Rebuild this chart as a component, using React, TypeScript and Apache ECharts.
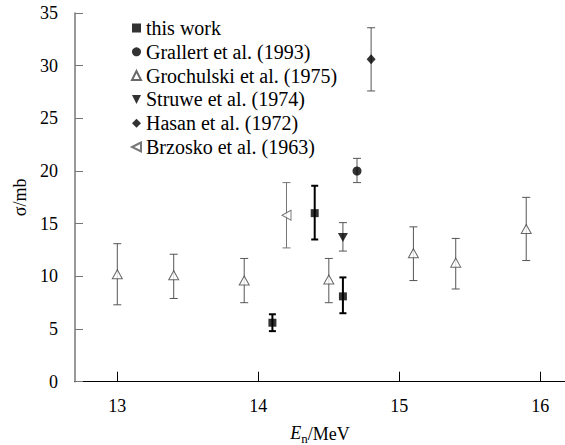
import React, { useEffect, useRef } from "react";
import * as echarts from "echarts";

// ---- data ----
const thisWorkE = [14.1, 14.4, 14.6];
const thisWorkSigma = [5.6, 16.0, 8.1];
const thisWorkLow = [4.8, 13.5, 6.5];
const thisWorkHigh = [6.4, 18.6, 9.9];

const grallertE = [14.7];
const grallertSigma = [20.0];
const grallertLow = [18.9];
const grallertHigh = [21.2];

const grochulskiE = [13.0, 13.4, 13.9, 14.5, 15.1, 15.4, 15.9];
const grochulskiSigma = [10.2, 10.1, 9.6, 9.7, 12.2, 11.3, 14.5];
const grochulskiLow = [7.3, 7.9, 7.5, 7.5, 9.6, 8.8, 11.5];
const grochulskiHigh = [13.1, 12.1, 11.7, 11.7, 14.7, 13.6, 17.5];

const struweE = [14.6];
const struweSigma = [13.7];
const struweLow = [12.4];
const struweHigh = [15.1];

const hasanE = [14.8];
const hasanSigma = [30.6];
const hasanLow = [27.6];
const hasanHigh = [33.6];

const brzoskoE = [14.2];
const brzoskoSigma = [15.8];
const brzoskoLow = [12.7];
const brzoskoHigh = [18.9];

const xTicks = [13, 14, 15, 16];

const FONT = "Times New Roman, Liberation Serif, serif";
const GRAY = "#555";

const DOWN_TRI = "path://M0,0 L10,0 L5,10 Z";
const LEFT_TRI = "path://M10,0 L0,5 L10,10 Z";

function pts(xs: number[], ys: number[]) {
  return xs.map((x, i) => [x, ys[i]]);
}
function errs(xs: number[], lo: number[], hi: number[]) {
  return xs.map((x, i) => [x, lo[i], hi[i]]);
}

function errRender(capHalf: number, color: string, width: number) {
  return (params: any, api: any) => {
    const x = api.value(0);
    const lo = api.value(1);
    const hi = api.value(2);
    const top = api.coord([x, hi]);
    const bot = api.coord([x, lo]);
    const style = { stroke: color, lineWidth: width, fill: "none" };
    return {
      type: "group",
      children: [
        { type: "line", shape: { x1: top[0], y1: top[1], x2: bot[0], y2: bot[1] }, style },
        { type: "line", shape: { x1: top[0] - capHalf, y1: top[1], x2: top[0] + capHalf, y2: top[1] }, style },
        { type: "line", shape: { x1: bot[0] - capHalf, y1: bot[1], x2: bot[0] + capHalf, y2: bot[1] }, style },
      ],
    };
  };
}

function errSeries(data: number[][], capHalf: number, color: string, width: number) {
  return {
    type: "custom",
    renderItem: errRender(capHalf, color, width),
    data,
    encode: { x: 0, y: [1, 2] },
    z: 1,
    silent: true,
  };
}

export default function App() {
  const ref = useRef<HTMLDivElement>(null);
  useEffect(() => {
    const chart = echarts.init(ref.current!, null, { renderer: "svg" });
    const option: any = {
      animation: false,
      backgroundColor: "#fff",
      textStyle: { fontFamily: FONT },
      grid: { left: 75, right: 0, top: 13, bottom: 63.3, containLabel: false, outerBoundsMode: "none" },
      legend: {
        orient: "vertical",
        left: 126,
        top: 13,
        itemGap: 3.8,
        itemWidth: 9,
        itemHeight: 9,
        textStyle: { fontSize: 20, fontFamily: FONT, color: "#000", lineHeight: 20 },
        data: [
          { name: "this work", icon: "rect" },
          { name: "Grallert et al. (1993)", icon: "circle" },
          { name: "Grochulski et al. (1975)", icon: "triangle" },
          { name: "Struwe et al. (1974)", icon: DOWN_TRI },
          { name: "Hasan et al. (1972)", icon: "diamond" },
          { name: "Brzosko et al. (1963)", icon: LEFT_TRI },
        ],
      },
      xAxis: {
        type: "value",
        min: 12.7,
        max: 16.175,
        name: "{i|E}{s|n}/MeV",
        nameLocation: "middle",
        nameGap: 42,
        nameTextStyle: {
          fontFamily: FONT,
          fontSize: 18,
          color: "#000",
          rich: {
            i: { fontStyle: "italic", fontSize: 18, fontFamily: FONT, color: "#000", lineHeight: 20, verticalAlign: "top" },
            s: { fontSize: 13, fontFamily: FONT, color: "#000", lineHeight: 13, padding: [8, 0, 0, 0], verticalAlign: "top" },
          },
        },
        axisLine: { lineStyle: { color: "#000", width: 1 } },
        axisTick: { inside: true, length: 10, customValues: xTicks, lineStyle: { color: "#000" } },
        axisLabel: { customValues: xTicks, fontSize: 18, color: "#000", fontFamily: FONT, margin: 15 },
        splitLine: { show: false },
      },
      yAxis: {
        type: "value",
        min: 0,
        max: 35,
        interval: 5,
        name: "σ/mb",
        nameLocation: "middle",
        nameGap: 46,
        nameTextStyle: { fontFamily: FONT, fontSize: 18, color: "#000" },
        axisLine: { show: true, lineStyle: { color: "#777", width: 1.5 } },
        axisTick: { show: true, inside: true, length: 8, lineStyle: { color: "#777" } },
        axisLabel: { fontSize: 18, color: "#000", fontFamily: FONT, margin: 17 },
        splitLine: { show: false },
      },
      series: [
        errSeries(errs(grochulskiE, grochulskiLow, grochulskiHigh), 4, GRAY, 1),
        errSeries(errs(grallertE, grallertLow, grallertHigh), 4, GRAY, 1),
        errSeries(errs(struweE, struweLow, struweHigh), 4, GRAY, 1),
        errSeries(errs(hasanE, hasanLow, hasanHigh), 4, GRAY, 1),
        errSeries(errs(brzoskoE, brzoskoLow, brzoskoHigh), 4, "#777", 1),
        errSeries(errs(thisWorkE, thisWorkLow, thisWorkHigh), 3.5, "#000", 2),
        {
          name: "this work",
          type: "scatter",
          symbol: "rect",
          symbolSize: 8,
          data: pts(thisWorkE, thisWorkSigma),
          itemStyle: { color: "#000" },
          z: 3,
        },
        {
          name: "Grallert et al. (1993)",
          type: "scatter",
          symbol: "circle",
          symbolSize: 9,
          data: pts(grallertE, grallertSigma),
          itemStyle: { color: "#000" },
          z: 3,
        },
        {
          name: "Grochulski et al. (1975)",
          type: "scatter",
          symbol: "triangle",
          symbolSize: [10, 9],
          data: pts(grochulskiE, grochulskiSigma),
          itemStyle: { color: "#fff", borderColor: "#444", borderWidth: 1 },
          z: 3,
        },
        {
          name: "Struwe et al. (1974)",
          type: "scatter",
          symbol: DOWN_TRI,
          symbolSize: [10, 9],
          data: pts(struweE, struweSigma),
          itemStyle: { color: "#000" },
          z: 3,
        },
        {
          name: "Hasan et al. (1972)",
          type: "scatter",
          symbol: "diamond",
          symbolSize: [9, 10],
          data: pts(hasanE, hasanSigma),
          itemStyle: { color: "#000" },
          z: 3,
        },
        {
          name: "Brzosko et al. (1963)",
          type: "scatter",
          symbol: LEFT_TRI,
          symbolSize: [9, 10],
          data: pts(brzoskoE, brzoskoSigma),
          itemStyle: { color: "#fff", borderColor: "#555", borderWidth: 1 },
          z: 3,
        },
      ],
    };
    chart.setOption(option);
    return () => chart.dispose();
  }, []);
  return (
    <div
      ref={ref}
      style={{ position: "fixed", left: 0, top: 0, width: 565, height: 445, background: "#fff" }}
    />
  );
}
